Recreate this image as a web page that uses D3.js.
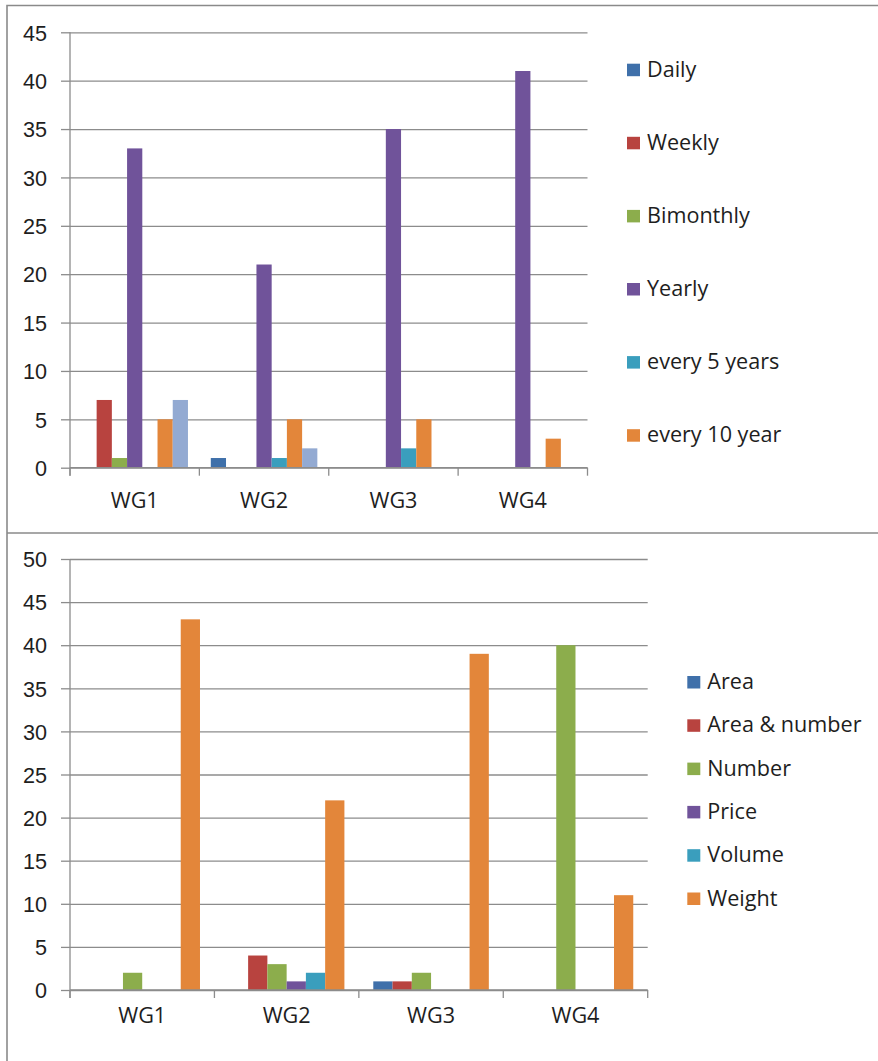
<!DOCTYPE html>
<html>
<head>
<meta charset="utf-8">
<script src="https://cdn.jsdelivr.net/npm/d3@7"></script>
<style>
    body { margin: 0; background: #fff; }
    svg { display: block; font-family: "Open Sans", sans-serif; }
    .frame { stroke: #8a8a8a; stroke-width: 1.6; fill: none; }
    .grid line { stroke: #8c8c8c; stroke-width: 1.3; }
    .grid .domain { display: none; }
    .yaxis line, .yaxis path, .xticks line, .xaxis-line { stroke: #8c8c8c; stroke-width: 1.3; fill: none; }
    .yaxis text, .xlabels text, .legend text { fill: #1e1e1e; font-size: 21.6px; }
</style>
</head>
<body>
<svg id="chart" width="878" height="1061"></svg>
<script>
// Working groups on the x axis of both charts
const groups = ["WG1", "WG2", "WG3", "WG4"];

// Top chart: survey frequency
const frequencyNames = ["Daily", "Weekly", "Bimonthly", "Yearly", "every 5 years", "every 10 year", "(no legend entry)"];
const daily = [0, 1, 0, 0];
const weekly = [7, 0, 0, 0];
const bimonthly = [1, 0, 0, 0];
const yearly = [33, 21, 35, 41];
const every5Years = [0, 1, 2, 0];
const every10Year = [5, 5, 5, 3];
const unlabelled = [7, 2, 0, 0];
const frequencyTicks = [0, 5, 10, 15, 20, 25, 30, 35, 40, 45];

// Bottom chart: unit of measurement
const unitNames = ["Area", "Area & number", "Number", "Price", "Volume", "Weight"];
const area = [0, 0, 1, 0];
const areaAndNumber = [0, 4, 1, 0];
const number = [2, 3, 2, 40];
const price = [0, 1, 0, 0];
const volume = [0, 2, 0, 0];
const weight = [43, 22, 39, 11];
const unitTicks = [0, 5, 10, 15, 20, 25, 30, 35, 40, 45, 50];

const palette = ["#3f70aa", "#b8433f", "#8cad4c", "#70539a", "#3a9ebd", "#e3863a", "#93aad2"];

/** Class implementing one clustered column chart. */
class GroupedBarChart {
    /**
     * Creates a chart inside the given svg
     * @param svg d3 selection of the svg
     * @param layout plot box, legend placement and label offsets
     */
    constructor(svg, layout) {
        this.layout = layout;
        this.g = svg.append("g");
    }

    /**
     * Draws axes, gridlines, bars and legend
     * @param names series names
     * @param values one array per series, indexed by group
     * @param ticks y tick values
     */
    draw(names, values, ticks) {
        let L = this.layout;
        let width = L.right - L.left;

        let x0 = d3.scaleBand().domain(groups).range([L.left, L.right]);
        // Excel gap width of 150%: half a gap on each side of the cluster
        let x1 = d3.scaleBand().domain(names).range([0, x0.bandwidth()]).paddingOuter(0.75);
        let y = d3.scaleLinear().domain([0, d3.max(ticks)]).range([L.bottom, L.top]);

        // Gridlines
        this.g.append("g")
            .attr("class", "grid")
            .attr("transform", `translate(${L.left},0)`)
            .call(d3.axisLeft(y).tickValues(ticks).tickSize(-width).tickFormat(""));

        // Y axis with outside ticks
        this.g.append("g")
            .attr("class", "yaxis")
            .attr("transform", `translate(${L.left},0)`)
            .call(d3.axisLeft(y).tickValues(ticks).tickSizeInner(9).tickSizeOuter(0).tickPadding(14))
            .call(a => a.select(".domain").attr("d", `M0,${y(d3.max(ticks))}V${L.bottom + 8}`))
            .selectAll("text").attr("dy", "0.36em");

        // Bars
        let rows = [];
        names.forEach((name, i) => {
            groups.forEach((grp, j) => {
                rows.push({ name: name, group: grp, value: values[i][j], color: palette[i] });
            });
        });
        this.g.append("g")
            .selectAll("rect")
            .data(rows.filter(d => d.value > 0))
            .enter()
            .append("rect")
            .attr("x", d => x0(d.group) + x1(d.name))
            .attr("y", d => y(d.value))
            .attr("width", x1.bandwidth())
            .attr("height", d => y(0) - y(d.value))
            .attr("fill", d => d.color);

        // X axis line and category boundary ticks
        this.g.append("line")
            .attr("class", "xaxis-line")
            .attr("x1", L.left).attr("x2", L.right)
            .attr("y1", y(0)).attr("y2", y(0));
        let bounds = groups.map(d => x0(d)).concat([L.right]);
        this.g.append("g")
            .attr("class", "xticks")
            .selectAll("line")
            .data(bounds)
            .enter()
            .append("line")
            .attr("x1", d => d).attr("x2", d => d)
            .attr("y1", y(0)).attr("y2", y(0) + 8);

        // Category labels
        this.g.append("g")
            .attr("class", "xlabels")
            .selectAll("text")
            .data(groups)
            .enter()
            .append("text")
            .attr("x", d => x0(d) + x0.bandwidth() / 2)
            .attr("y", y(0) + L.labelOffset)
            .attr("text-anchor", "middle")
            .text(d => d);

        // Legend (only the named entries that fit)
        let legend = this.g.append("g")
            .attr("class", "legend")
            .selectAll("g")
            .data(names.slice(0, L.legendCount))
            .enter()
            .append("g")
            .attr("transform", (d, i) => `translate(${L.legendX},${L.legendY + i * L.legendStep})`);
        legend.append("rect")
            .attr("x", 0).attr("y", -13)
            .attr("width", 13).attr("height", 12.5)
            .attr("fill", (d, i) => palette[i]);
        legend.append("text")
            .attr("x", 20)
            .text(d => d);
    }
}

let svg = d3.select("#chart");

// Outer frame: top, left and the divider between the charts
svg.append("path")
    .attr("class", "frame")
    .attr("d", "M878,5.5H7V1061M7,533H878");

let frequencyChart = new GroupedBarChart(svg, {
    left: 70, right: 587.5, top: 32.3, bottom: 467.7,
    labelOffset: 40, legendX: 627, legendY: 76.7, legendStep: 73.1, legendCount: 6
});
frequencyChart.draw(frequencyNames,
    [daily, weekly, bimonthly, yearly, every5Years, every10Year, unlabelled],
    frequencyTicks);

let unitChart = new GroupedBarChart(svg, {
    left: 70, right: 647.7, top: 559, bottom: 990,
    labelOffset: 33.3, legendX: 687.3, legendY: 689, legendStep: 43.3, legendCount: 6
});
unitChart.draw(unitNames,
    [area, areaAndNumber, number, price, volume, weight],
    unitTicks);
</script>
</body>
</html>
